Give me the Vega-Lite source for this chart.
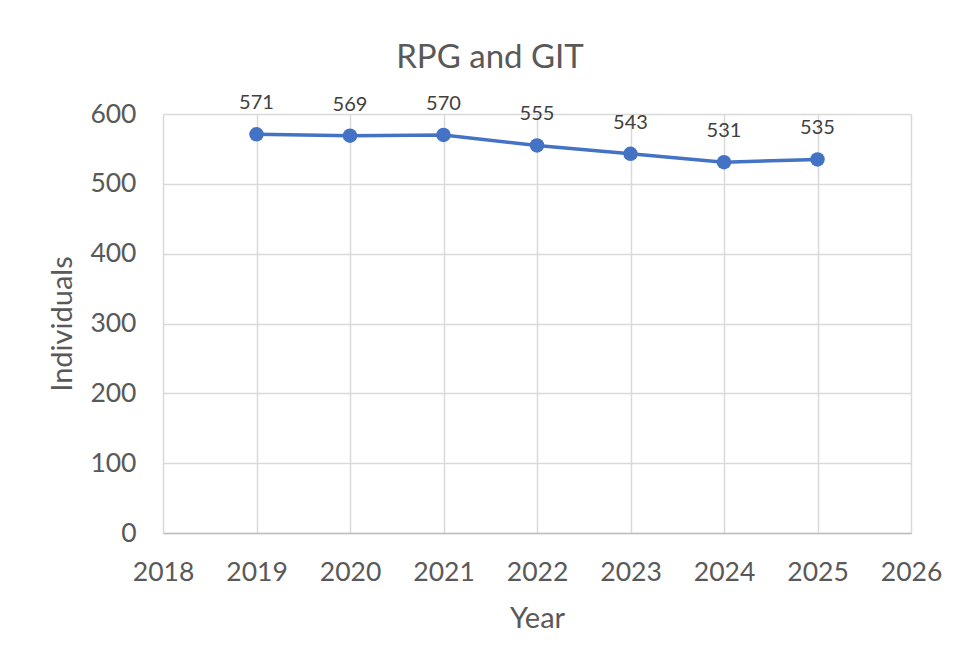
{
  "$schema": "https://vega.github.io/schema/vega-lite/v6.json",
  "width": 748,
  "height": 419,
  "autosize": {"type": "none"},
  "padding": {"left": 163, "top": 114, "right": 45, "bottom": 126},
  "background": "white",
  "title": {
    "text": "RPG and GIT",
    "font": "Lato",
    "fontSize": 33,
    "fontWeight": "normal",
    "color": "#595959",
    "anchor": "middle",
    "frame": "group",
    "dx": -47,
    "offset": 18
  },
  "data": {
    "values": [
      {"Year": 2019, "Individuals": 571},
      {"Year": 2020, "Individuals": 569},
      {"Year": 2021, "Individuals": 570},
      {"Year": 2022, "Individuals": 555},
      {"Year": 2023, "Individuals": 543},
      {"Year": 2024, "Individuals": 531},
      {"Year": 2025, "Individuals": 535}
    ]
  },
  "encoding": {
    "x": {
      "field": "Year",
      "type": "quantitative",
      "scale": {"domain": [2018, 2026], "nice": false, "zero": false},
      "axis": {
        "values": [2018, 2019, 2020, 2021, 2022, 2023, 2024, 2025, 2026],
        "format": "d",
        "title": "Year",
        "grid": true,
        "gridColor": "#d9d9d9",
        "gridWidth": 1.5,
        "domain": true,
        "domainColor": "#bfbfbf",
        "domainWidth": 1.5,
        "ticks": false,
        "labelFlush": false,
        "labelOverlap": false,
        "labelPadding": 26,
        "labelFont": "Lato",
        "labelFontSize": 26.5,
        "labelColor": "#595959",
        "titleFont": "Lato",
        "titleFontSize": 29,
        "titleFontWeight": "normal",
        "titleColor": "#595959",
        "titlePadding": 19
      }
    },
    "y": {
      "field": "Individuals",
      "type": "quantitative",
      "scale": {"domain": [0, 600], "nice": false},
      "axis": {
        "values": [0, 100, 200, 300, 400, 500, 600],
        "title": "Individuals",
        "grid": true,
        "gridColor": "#d9d9d9",
        "gridWidth": 1.5,
        "domain": false,
        "ticks": false,
        "labelFlush": false,
        "labelOverlap": false,
        "labelPadding": 27,
        "labelFont": "Lato",
        "labelFontSize": 26.5,
        "labelColor": "#595959",
        "titleFont": "Lato",
        "titleFontSize": 29,
        "titleFontWeight": "normal",
        "titleColor": "#595959",
        "titlePadding": 12
      }
    }
  },
  "layer": [
    {
      "mark": {"type": "line", "color": "#4472C4", "strokeWidth": 3.5}
    },
    {
      "mark": {"type": "point", "shape": "circle", "filled": true, "opacity": 1, "color": "#4472C4", "size": 210}
    },
    {
      "mark": {"type": "text", "font": "Lato", "fontSize": 20, "color": "#404040", "baseline": "alphabetic", "dy": -25},
      "encoding": {"text": {"field": "Individuals", "type": "quantitative"}}
    }
  ],
  "config": {"view": {"stroke": null}}
}
